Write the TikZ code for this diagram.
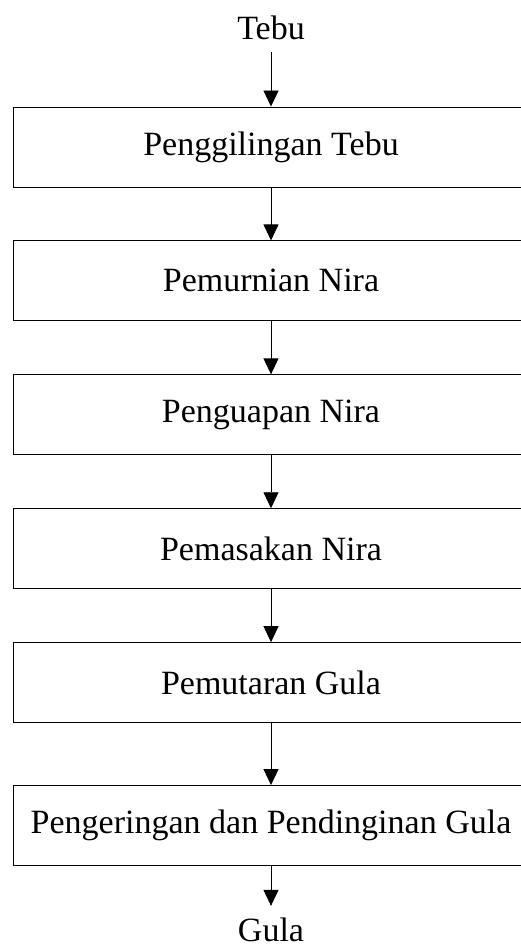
\documentclass[tikz,border=0pt]{standalone}
\usepackage{fontspec}
\setmainfont{Liberation Serif}
\usetikzlibrary{arrows.meta, positioning}
\tikzstyle{process} = [rectangle, minimum width=516pt, minimum height=80pt, text centered, draw=black, line width=0.9pt, font=\fontsize{34}{40}\selectfont]
\tikzstyle{term} = [inner sep=12pt, font=\fontsize{34}{40}\selectfont]
\tikzstyle{arrow} = [line width=0.9pt, -{Triangle[length=16pt, width=15pt]}]

\begin{document}
\begin{tikzpicture}[x=1pt, y=1pt, node distance=53pt]
        \useasboundingbox (0,0) rectangle (520,-952);
        % Input
        \node (tebu) [term] at (271,-28) {Tebu};
        
        % Steps
        \node (giling) [process] at (271,-147) {Penggilingan Tebu};
        \node (murni) [process, below=of giling] {Pemurnian Nira};
        \node (uap) [process, below=of murni] {Penguapan Nira};
        \node (masak) [process, below=of uap] {Pemasakan Nira};
        \node (putar) [process, below=of masak] {Pemutaran Gula};
        \node (kering) [process, below=62pt of putar] {Pengeringan dan Pendinginan Gula};
        
        % Output
        \node (gula) [term] at (271,-930) {Gula};
        
        % Arrows
        \draw [arrow] (tebu) -- (giling);
        \draw [arrow] (giling) -- (murni);
        \draw [arrow] (murni) -- (uap);
        \draw [arrow] (uap) -- (masak);
        \draw [arrow] (masak) -- (putar);
        \draw [arrow] (putar) -- (kering);
        \draw [arrow] (kering) -- (gula);
    \end{tikzpicture}
\end{document}
